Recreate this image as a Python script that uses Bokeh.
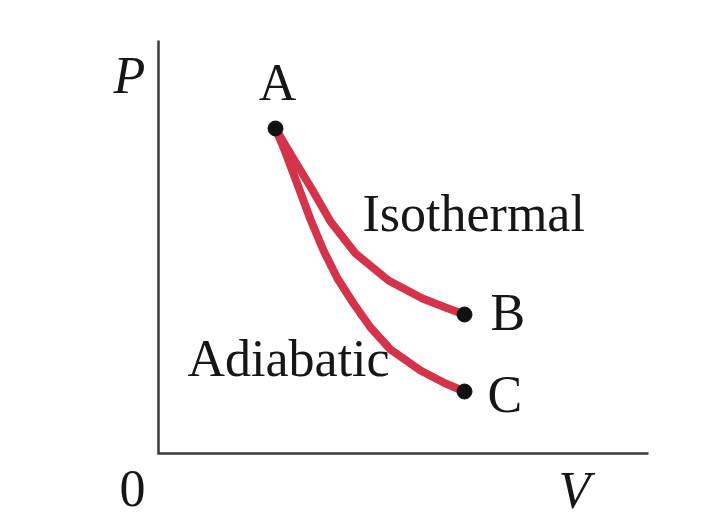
from bokeh.plotting import figure
from bokeh.models import Range1d, Label
from bokeh.embed import file_html
from bokeh.resources import INLINE

# Process curves (V, P in arbitrary units)
iso_V = [1.17, 1.33, 1.53, 1.72, 1.97, 2.30, 2.64, 2.87, 3.06]
iso_P = [3.25, 2.98, 2.65, 2.32, 2.00, 1.73, 1.55, 1.46, 1.39]

adi_V = [1.17, 1.27, 1.39, 1.52, 1.65, 1.79, 1.95, 2.12, 2.32, 2.62, 2.87, 3.06]
adi_P = [3.25, 3.01, 2.69, 2.34, 2.03, 1.75, 1.50, 1.26, 1.04, 0.83, 0.70, 0.62]

# State points
state_names = ["A", "B", "C"]
state_V = [1.17, 3.06, 3.06]
state_P = [3.25, 1.39, 0.62]

# Axis extents
axis_V_end = 4.90
axis_P_end = 4.13

SIZE = "52px"
TXT = "#161616"
RED = "#d5334a"
LIFT = 17  # px correction of the text baseline

p = figure(width=701, height=524, output_backend="svg", toolbar_location=None,
           x_range=Range1d(-1.58, 5.43), y_range=Range1d(-0.71, 4.53),
           x_axis_type=None, y_axis_type=None, min_border=0,
           background_fill_color="white", border_fill_color="white",
           outline_line_color=None)
p.xgrid.visible = False
p.ygrid.visible = False

# axes
p.line([0, 0, axis_V_end], [axis_P_end, 0, 0], line_color="#3a3a3a", line_width=2.5,
       line_join="miter")

# curves
p.line(iso_V, iso_P, line_color=RED, line_width=8, line_cap="round", line_join="round")
p.line(adi_V, adi_P, line_color=RED, line_width=8, line_cap="round", line_join="round")

# points
p.scatter(state_V, state_P, size=15, color="#111111")

# point labels
offsets = {"A": (2, 29, "center"), "B": (26, -15, "left"), "C": (23, -20, "left")}
for name, v, pp in zip(state_names, state_V, state_P):
    dx, dy, al = offsets[name]
    p.add_layout(Label(x=v, y=pp, x_offset=dx, y_offset=dy + LIFT, text=name,
                       text_font="Liberation Serif", text_font_size=SIZE,
                       text_color=TXT, text_align=al, text_baseline="alphabetic"))

def lab(x, y, t, align="left", style="normal"):
    p.add_layout(Label(x=x, y=y, y_offset=LIFT, text=t, text_font="Liberation Serif",
                       text_font_size=SIZE, text_color=TXT, text_align=align,
                       text_baseline="alphabetic", text_font_style=style))

lab(2.04, 2.23, "Isothermal")
lab(0.29, 0.78, "Adiabatic")
lab(-0.29, 3.61, "P", "center", "italic")
lab(4.16, -0.54, "V", "center", "italic")
lab(-0.26, -0.52, "0", "center")

open("out.html", "w").write(file_html(p, INLINE))
